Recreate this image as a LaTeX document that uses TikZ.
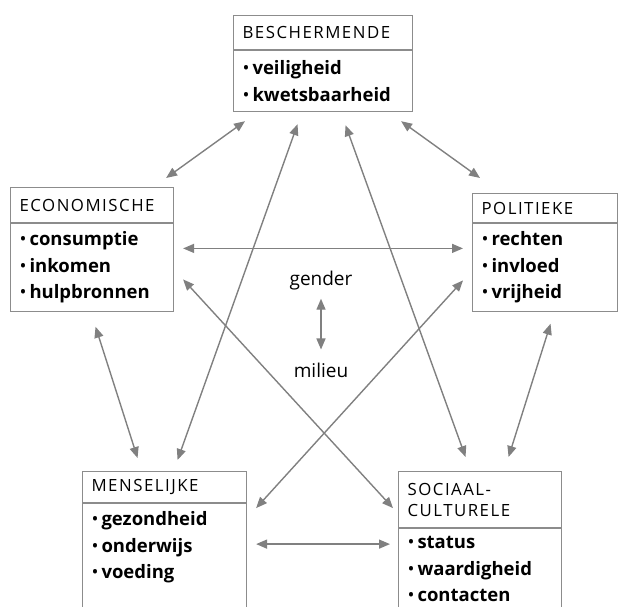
\documentclass[tikz,border=0pt]{standalone}
\usepackage{fontspec}
\setmainfont{Open Sans}
\newfontfamily\capsfont[LetterSpace=9]{Open Sans}
\usetikzlibrary{arrows.meta,positioning,calc}
\definecolor{framegray}{RGB}{140,140,140}
\definecolor{arrowgray}{RGB}{128,128,128}

\begin{document}
\begin{tikzpicture}[
    x=1pt,y=-1pt,
    headbox/.style={rectangle,draw=framegray,line width=1.1pt,anchor=north west,align=left,inner xsep=9pt,inner ysep=0pt,font=\capsfont\fontsize{16.8}{21}\selectfont},
    itembox/.style={rectangle,draw=framegray,line width=1.1pt,below=0pt of #1,align=left,inner xsep=9pt,inner ysep=8pt,font=\bfseries\fontsize{18.5}{26.5}\selectfont},
    midlabel/.style={inner sep=0pt,font=\fontsize{19}{22}\selectfont},
    link/.style={{Triangle[length=11pt,width=9pt]}-{Triangle[length=11pt,width=9pt]},draw=arrowgray,line width=1.4pt}
]
\newcommand{\pt}[1]{{\mdseries\textbullet}\hspace{3pt}#1}
\useasboundingbox (0,0) rectangle (626,607);

\node[headbox,text width=161pt,minimum height=34pt] (besch-h) at (233,15) {BESCHERMENDE};
\node[itembox=besch-h,text width=161pt,minimum height=61pt] (besch) {\pt{veiligheid}\\\pt{kwetsbaarheid}};

\node[headbox,text width=145pt,minimum height=35pt] (eco-h) at (10,187) {ECONOMISCHE};
\node[itembox=eco-h,text width=145pt,minimum height=86pt] (eco) {\pt{consumptie}\\\pt{inkomen}\\\pt{hulpbronnen}};

\node[headbox,text width=127pt,minimum height=29pt] (pol-h) at (472,193) {POLITIEKE};
\node[itembox=pol-h,text width=127pt,minimum height=86pt] (pol) {\pt{rechten}\\\pt{invloed}\\\pt{vrijheid}};

\node[headbox,text width=146pt,minimum height=31pt] (mens-h) at (82,471) {MENSELIJKE};
\node[itembox=mens-h,text width=146pt] (mens) {\pt{gezondheid}\\\pt{onderwijs}\\\pt{voeding}\\[6pt]~};

\node[headbox,text width=145pt,minimum height=56pt] (soc-h) at (398,471) {SOCIAAL-\\CULTURELE};
\node[itembox=soc-h,text width=145pt] (soc) {\pt{status}\\\pt{waardigheid}\\\pt{contacten}\\[6pt]~};

\node[midlabel] (gender) at (321,281) {gender};
\node[midlabel] (milieu) at (321,370) {milieu};

\draw[link] ($(besch.south west)+(12,9)$) -- ($(eco-h.north east)+(-8,-9)$);
\draw[link] ($(besch.south east)+(-12,9)$) -- ($(pol-h.north west)+(8,-15)$);
\draw[link] ($(eco.east)+(9,-19)$) -- ($(pol.west)+(-9,-19)$);
\draw[link] ($(besch.south)+(-25.5,12)$) -- ($(mens-h.north)+(13,-11)$);
\draw[link] ($(besch.south)+(22.5,13)$) -- ($(soc-h.north)+(-14.5,-14)$);
\draw[link] ($(eco.east)+(9,12)$) -- ($(soc.north west)+(-5,-20)$);
\draw[link] ($(pol.west)+(-9,13)$) -- ($(mens.north east)+(9,5)$);
\draw[link] ($(mens.north east)+(9,41)$) -- ($(soc.north west)+(-8,16)$);
\draw[link] ($(eco.south)+(3.5,15)$) -- ($(mens-h.north)+(-27,-13)$);
\draw[link] ($(pol.south)+(5.5,12)$) -- ($(soc-h.north)+(28.5,-14)$);
\draw[link,shorten <=8pt,shorten >=13pt] (gender) -- (milieu);

\end{tikzpicture}
\end{document}
